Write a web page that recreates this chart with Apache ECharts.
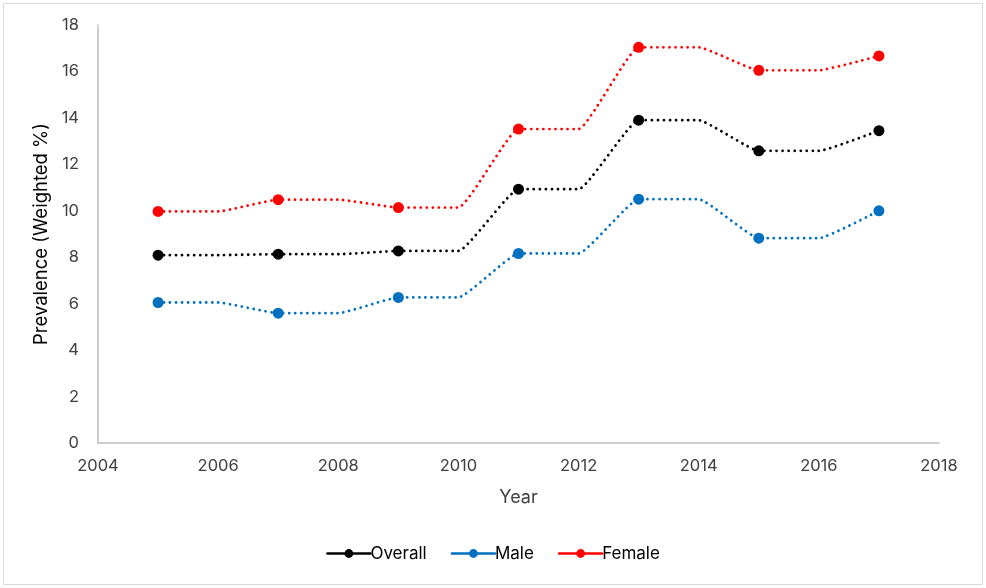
<!DOCTYPE html>
<html>
<head>
<meta charset="utf-8">
<script src="https://cdn.jsdelivr.net/npm/echarts@6/dist/echarts.min.js"></script>
<style>
html,body{margin:0;padding:0;background:#fff;}
#c{width:986px;height:588px;}
</style>
</head>
<body>
<div id="c"></div>
<script>
const years = [2005, 2006, 2007, 2008, 2009, 2010, 2011, 2012, 2013, 2014, 2015, 2016, 2017];
const overall = [8.09, 8.09, 8.13, 8.13, 8.27, 8.27, 10.93, 10.93, 13.9, 13.9, 12.58, 12.58, 13.45];
const male    = [6.05, 6.05, 5.59, 5.59, 6.27, 6.27, 8.16, 8.16, 10.5, 10.5, 8.82, 8.82, 10.0];
const female  = [9.97, 9.97, 10.48, 10.48, 10.14, 10.14, 13.52, 13.52, 17.04, 17.04, 16.05, 16.05, 16.67];
const seriesNames = ['Overall', 'Male', 'Female'];
const colors = ['#000000', '#0070C0', '#FF0000'];
const xTicks = [2004, 2018, 2];
const yTicks = [0, 18, 2];

const FONT = 'Inter, "Open Sans", sans-serif';
function mk(name, vals, color) {
  return {
    name: name,
    type: 'line',
    data: years.map((y, i) => [y, vals[i]]),
    smooth: 0.12,
    symbol: 'circle',
    symbolSize: (v) => (v[0] % 2 === 1 ? 11 : 0),
    showAllSymbol: true,
    color: color,
    itemStyle: {color: color},
    lineStyle: {color: color, width: 2.8, type: [0.01, 6], cap: 'round'}
  };
}
const chart = echarts.init(document.getElementById('c'), null, {renderer: 'canvas'});
chart.setOption({
  animation: false,
  backgroundColor: '#fff',
  graphic: [{type: 'rect', shape: {x: 3.5, y: 3.5, width: 979, height: 581}, style: {fill: 'none', stroke: '#d9d9d9', lineWidth: 1}}],
  grid: {left: 98, right: 47, top: 25, bottom: 145, containLabel: false},
  xAxis: {
    type: 'value', min: xTicks[0], max: xTicks[1], interval: xTicks[2],
    name: 'Year', nameLocation: 'middle', nameGap: 46,
    nameTextStyle: {fontFamily: FONT, fontSize: 18, color: '#404040'},
    axisLine: {show: true, lineStyle: {color: '#bfbfbf', width: 1.5}},
    axisTick: {show: false}, splitLine: {show: false},
    axisLabel: {fontFamily: FONT, fontSize: 16.5, color: '#404040', margin: 15, formatter: v => String(v)}
  },
  yAxis: {
    type: 'value', min: yTicks[0], max: yTicks[1], interval: yTicks[2],
    name: 'Prevalence (Weighted %)', nameLocation: 'middle', nameGap: 47, nameRotate: 90,
    nameTextStyle: {fontFamily: FONT, fontSize: 18.5, color: '#000'},
    axisLine: {show: true, lineStyle: {color: '#bfbfbf', width: 1.5}},
    axisTick: {show: false}, splitLine: {show: false},
    axisLabel: {fontFamily: FONT, fontSize: 16.5, color: '#404040', margin: 19}
  },
  legend: {
    data: seriesNames, bottom: 21, left: 'center',
    itemWidth: 43, itemHeight: 11, itemGap: 24,
    textStyle: {fontFamily: FONT, fontSize: 17, color: '#000', padding: [0, 0, 0, -5]},
    lineStyle: {type: 'solid', width: 2.5},
    itemStyle: {}
  },
  series: [mk(seriesNames[0], overall, colors[0]), mk(seriesNames[1], male, colors[1]), mk(seriesNames[2], female, colors[2])]
});
</script>
</body>
</html>
